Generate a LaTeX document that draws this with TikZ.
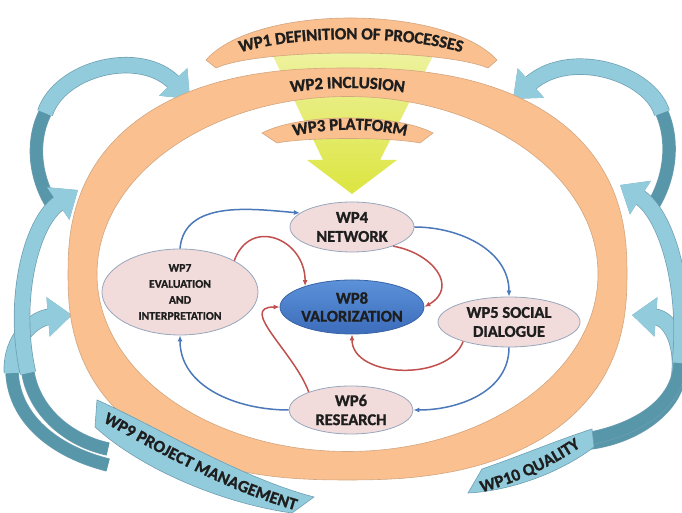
\documentclass[tikz,border=0pt]{standalone}
\usepackage{fontspec}
\setmainfont{Carlito}[BoldFont={Carlito Bold},BoldFeatures={FakeBold=1.2}]
\usetikzlibrary{shapes.geometric,arrows.meta,decorations.text,calc}

\definecolor{ringorange}{HTML}{FAC090}
\definecolor{ringedge}{HTML}{D2A680}
\definecolor{funneltop}{HTML}{EEF2A0}
\definecolor{funnelbot}{HTML}{DCE540}
\definecolor{ribbonlight}{HTML}{92CBDC}
\definecolor{ribbondark}{HTML}{5896AA}
\definecolor{ribbonedge}{HTML}{6E9FB2}
\definecolor{wpfill}{HTML}{F2DCDB}
\definecolor{wpedge}{HTML}{98A6BC}
\definecolor{valtop}{HTML}{5C92DA}
\definecolor{valbot}{HTML}{3C6CBA}
\definecolor{valedge}{HTML}{3A64A6}
\definecolor{cycblue}{HTML}{4A78B8}
\definecolor{valred}{HTML}{C0504D}
\definecolor{wptext}{HTML}{1E1E1E}

\newcommand{\bandfont}{\fontsize{17}{17}\selectfont\bfseries}

\begin{document}
\begin{tikzpicture}[x=1pt,y=1pt,
  wp/.style={ellipse,draw=wpedge,line width=0.8pt,fill=wpfill,inner sep=0pt,align=center,
    text=wptext,font=\fontsize{16.5}{19}\selectfont\bfseries},
  val/.style={ellipse,draw=valedge,line width=0.8pt,top color=valtop,bottom color=valbot,inner sep=0pt,
    align=center,text=wptext,font=\fontsize{16.5}{18}\selectfont\bfseries},
  band/.style={fill=ringorange,draw=ringedge,line width=0.6pt},
  bluebandshape/.style={fill=ribbonlight,draw=ribbonedge,line width=0.6pt},
  cycarrow/.style={draw=cycblue,line width=1.5pt,-{Latex[length=6pt,width=5pt]}},
  valarrow/.style={draw=valred,line width=1.5pt,-{Latex[length=6pt,width=5pt]}},
  ribbon/.style={preaction={draw=ribbonedge,line width=16.4pt},draw=ribbonlight,line width=15pt},
  ribbontail/.style={preaction={draw=ribbonedge,line width=13.4pt},draw=ribbondark,line width=12pt},
  ribbonhead/.style={-{Triangle[width=38pt,length=24pt]}},
  bandtext/.style={decorate,decoration={text along path,text={|\bandfont|#1},
    text align=center,raise=-6pt,text color=wptext}}
]
\useasboundingbox (0,0) rectangle (682,513);
\coordinate (ctr) at (347.5,239);

\draw[ribbontail] (57,301) .. controls (35,330) and (30,370) .. (45,400);
\draw[ribbon,ribbonhead] (45,400) .. controls (60,445) and (140,465) .. (190,414);
\draw[ribbontail] (108,48) .. controls (60,60) and (15,90) .. (12,140);
\draw[ribbon,ribbonhead] (12,140) .. controls (10,175) and (35,195) .. (72,198);
\draw[ribbontail] (108,64) .. controls (70,72) and (35,100) .. (28,140);
\draw[ribbon,ribbonhead] (28,140) .. controls (12,210) and (30,290) .. (78,323);
\draw[ribbontail] (648,300) .. controls (670,330) and (675,370) .. (662,400);
\draw[ribbon,ribbonhead] (662,400) .. controls (650,440) and (570,465) .. (513,414);
\draw[ribbontail] (590,70) .. controls (630,75) and (672,100) .. (679,135);
\draw[ribbon,ribbonhead] (679,135) .. controls (684,170) and (670,195) .. (632,198);
\draw[ribbontail] (592,75) .. controls (640,85) and (678,110) .. (680,150);
\draw[ribbon,ribbonhead] (680,150) .. controls (688,230) and (665,300) .. (620,328);

\shade[top color=funneltop,bottom color=funnelbot] (270,463) -- (436,463) -- (380,353) -- (397,353)
  -- (352,319) -- (307,353) -- (323,353) -- cycle;

\filldraw[band,even odd rule] plot[domain=0.5:360.5,samples=145,variable=\t]
  ({347.5+279.5*sign(cos(\t))*abs(cos(\t))^0.8333},{239+206*sign(sin(\t))*abs(sin(\t))^0.8333}) -- cycle
  (ctr) ellipse[x radius=250.5,y radius=177.5];
\path[bandtext={WP2 INCLUSION}] ($(ctr)+(115:265.5 and 192)$) arc[start angle=115,end angle=65,x radius=265.5,y radius=192];

\filldraw[band] (206,453) .. controls (255,509) and (445,509) .. (497,453) -- (488,445)
  .. controls (440,465) and (260,465) .. (216,445) -- cycle;
\path[bandtext={WP1 DEFINITION OF PROCESSES}] (212,455) .. controls (265,488) and (437,488) .. (490,455);
\filldraw[band] (262,380) .. controls (300,400) and (395,400) .. (433,380) -- (420,370)
  .. controls (390,376) and (307,376) .. (277,370) -- cycle;
\path[bandtext={WP3 PLATFORM}] (278,378) .. controls (315,393) and (385,393) .. (422,378);

\node[wp,minimum width=124pt,minimum height=50pt] (wp4) at (352,286) {WP4\\NETWORK};
\node[wp,minimum width=142pt,minimum height=50pt] (wp5) at (509,191) {WP5 SOCIAL\\DIALOGUE};
\node[wp,minimum width=124pt,minimum height=48pt] (wp6) at (351,103) {WP6\\RESEARCH};
\node[wp,minimum width=156pt,minimum height=86pt,font=\fontsize{11.7}{16}\selectfont\bfseries]
  (wp7) at (180,221) {WP7\\EVALUATION\\AND\\INTERPRETATION};
\node[val,minimum width=144pt,minimum height=54pt] (wp8) at (352,206) {WP8\\VALORIZATION};

\draw[cycarrow] (wp7.north) to[out=85,in=175] (wp4.165);
\draw[cycarrow] (wp4.east) to[out=0,in=90] (wp5.north);
\draw[cycarrow] (wp5.south) to[out=270,in=0] (wp6.east);
\draw[cycarrow] (wp6.west) to[out=180,in=270] (wp7.south);

\draw[valarrow] (wp7.30) to[out=70,in=90,looseness=1.6] (wp8.156);
\draw[valarrow] (wp4.-25) to[out=-10,in=30,looseness=1.5] (wp8.east);
\draw[valarrow] (wp5.203) to[out=250,in=270] (wp8.south);
\draw[valarrow] (wp6.157) to[out=110,in=180,looseness=1.2] (wp8.west);

\filldraw[bluebandshape] (95,86) -- (97,113) .. controls (150,90) and (240,35) .. (314,16) -- (292,0)
  .. controls (220,10) and (140,45) .. (95,86) -- cycle;
\path[bandtext={WP9 PROJECT MANAGEMENT}] (94,103) .. controls (150,72) and (230,25) .. (310,5);
\filldraw[bluebandshape] (468,20) -- (482,44) .. controls (520,57) and (555,72) .. (592,84) -- (594,66)
  .. controls (560,40) and (510,22) .. (468,20) -- cycle;
\path[bandtext={WP10 QUALITY}] (470,24) .. controls (505,32) and (545,48) .. (586,77);
\end{tikzpicture}
\end{document}
